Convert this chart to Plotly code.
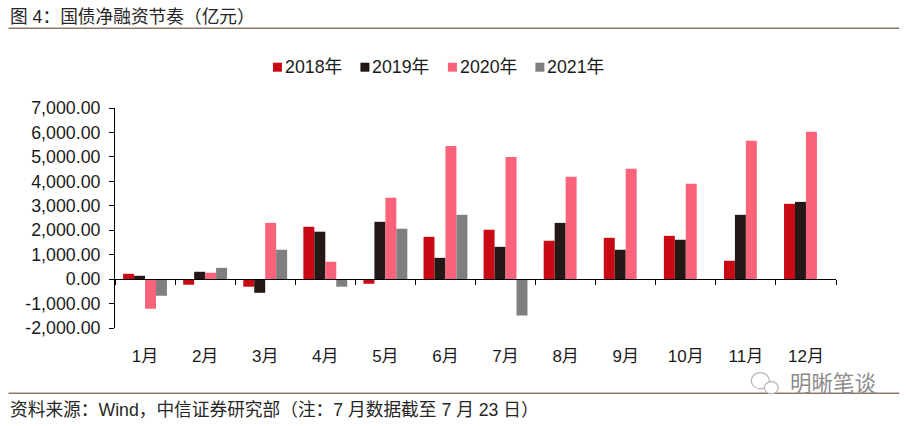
import plotly.graph_objects as go

months = ["1月", "2月", "3月", "4月", "5月", "6月", "7月", "8月", "9月", "10月", "11月", "12月"]
s2018 = [218, -230, -310, 2140, -190, 1730, 2020, 1570, 1690, 1770, 750, 3080]
s2019 = [136, 300, -560, 1940, 2345, 870, 1320, 2300, 1200, 1610, 2630, 3160]
s2020 = [-1213, 260, 2300, 710, 3330, 5450, 5000, 4185, 4510, 3900, 5660, 6025]
s2021 = [-680, 460, 1200, -310, 2060, 2630, -1490, None, None, None, None, None]

series_names = ["2018年", "2019年", "2020年", "2021年"]
series_values = [s2018, s2019, s2020, s2021]
series_colors = ["#C70A14", "#231815", "#FB637A", "#7F7F7F"]

y_ticks = [-2000, -1000, 0, 1000, 2000, 3000, 4000, 5000, 6000, 7000]
y_labels = ["-2,000.00", "-1,000.00", "0.00", "1,000.00", "2,000.00", "3,000.00",
            "4,000.00", "5,000.00", "6,000.00", "7,000.00"]

title_text = "图 4：国债净融资节奏（亿元）"
source_text = "资料来源：Wind，中信证券研究部（注：7 月数据截至 7 月 23 日）"
watermark_text = "明晰笔谈"

FONT = "'Liberation Sans', Arial, 'Noto Sans CJK SC', sans-serif"
W, H = 906, 426
L, R, T, B = 114.5, 70.3, 108.3, 97.7
PW, PH = W - L - R, H - T - B

fig = go.Figure()
for name, vals, col in zip(series_names, series_values, series_colors):
    fig.add_bar(x=months, y=vals, name=name, marker=dict(color=col, line=dict(width=0)))


def px(x):
    return (x - L) / PW


def py(y):
    return (H - B - y) / PH


shapes = [
    dict(type="line", xref="paper", yref="paper", x0=px(8), x1=px(899), y0=py(28.5), y1=py(28.5),
         line=dict(color="#5A3228", width=1)),
    dict(type="line", xref="paper", yref="paper", x0=px(8), x1=px(899), y0=py(393.5), y1=py(393.5),
         line=dict(color="#5A3228", width=1)),
]
annotations = [
    dict(text=title_text, x=px(7), y=py(17), xref="paper", yref="paper", xanchor="left", yanchor="middle",
         showarrow=False, font=dict(size=17.7, color="#262626", family=FONT)),
    dict(text=source_text, x=px(7), y=py(410), xref="paper", yref="paper", xanchor="left", yanchor="middle",
         showarrow=False, font=dict(size=17.7, color="#262626", family=FONT)),
]

# legend row: squares and labels
for i, (name, col) in enumerate(zip(series_names, series_colors)):
    x0 = 272.5 + i * 87.5
    shapes.append(dict(type="rect", xref="paper", yref="paper", x0=px(x0), x1=px(x0 + 9),
                       y0=py(72), y1=py(63), fillcolor=col, line=dict(width=0)))
    annotations.append(dict(text=name, x=px(x0 + 10), y=py(67.5), xref="paper", yref="paper",
                            xanchor="left", yanchor="middle", showarrow=False,
                            font=dict(size=17.8, color="#1A1A1A", family=FONT)))

# chat-bubble mark and name of the watermark
for (cx, cy, rx, ry) in [(760, 381, 9, 8), (771, 388, 7, 6)]:
    shapes.append(dict(type="circle", xref="paper", yref="paper", x0=px(cx - rx), x1=px(cx + rx),
                       y0=py(cy + ry), y1=py(cy - ry), fillcolor="white",
                       line=dict(color="#B5B5B5", width=1.2)))
annotations.append(dict(text=watermark_text, x=px(788), y=py(384), xref="paper", yref="paper",
                        xanchor="left", yanchor="middle", showarrow=False,
                        font=dict(size=21.5, color="#8C8C8C", family=FONT)))

fig.update_layout(
    width=W, height=H,
    margin=dict(l=L, r=R, t=T, b=B, pad=0),
    paper_bgcolor="white", plot_bgcolor="white",
    barmode="group", bargap=0.27, bargroupgap=0,
    showlegend=False,
    font=dict(family=FONT, color="#1A1A1A"),
    shapes=shapes, annotations=annotations,
    xaxis=dict(
        type="category", categoryorder="array", categoryarray=months,
        anchor="free", position=2000 / 9000,
        showline=True, linecolor="#000000", linewidth=1.2,
        ticks="outside", ticklen=5, tickwidth=1, tickcolor="#000000",
        tickson="boundaries", showgrid=False, zeroline=False,
        ticklabelstandoff=61, tickfont=dict(size=17, color="#1A1A1A"),
        automargin=False,
    ),
    yaxis=dict(
        range=[-2000, 7000], tickvals=y_ticks, ticktext=y_labels,
        showline=True, linecolor="#000000", linewidth=1,
        ticks="outside", ticklen=5, tickwidth=1, tickcolor="#000000",
        showgrid=False, zeroline=False, ticklabelstandoff=5,
        tickfont=dict(size=17.8, color="#1A1A1A"),
        automargin=False,
    ),
)

fig.write_html("out.html", config={"displayModeBar": False},
               post_script="document.body.style.margin='0';window.dispatchEvent(new Event('resize'));")
